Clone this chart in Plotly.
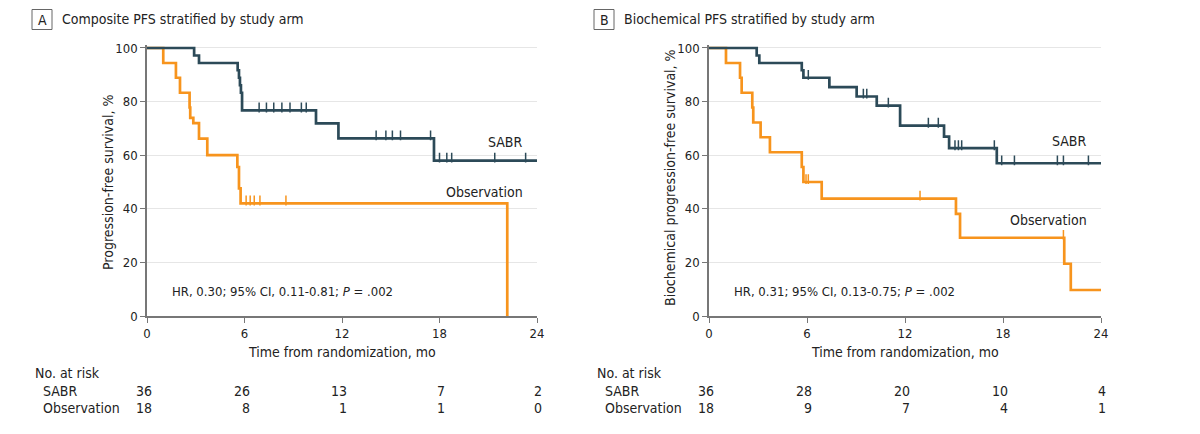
import plotly.graph_objects as go

# Kaplan-Meier step data (months, % progression-free)
a_sabr_t = [0, 2.9, 3.2, 5.58, 5.66, 5.72, 5.78, 5.85, 10.4, 11.78, 17.66, 24]
a_sabr_s = [100, 97.2, 94.4, 91.7, 88.9, 86.1, 83.3, 76.7, 71.9, 66.3, 58.0, 58.0]
a_sabr_cens = [6.9, 7.35, 7.8, 8.3, 8.8, 9.5, 9.8, 14.1, 14.7, 15.1, 15.6, 17.45,
               18.0, 18.45, 18.75, 21.4, 23.3]

a_obs_t = [0, 1.0, 1.78, 2.03, 2.62, 2.66, 2.85, 3.2, 3.71, 5.56, 5.66, 5.76, 22.17]
a_obs_s = [100, 94.4, 88.9, 83.3, 77.8, 73.9, 72.0, 66.2, 60.0, 55.6, 47.6, 42.0, 0]
a_obs_cens = [6.1, 6.35, 6.6, 6.95, 8.55]

b_sabr_t = [0, 2.92, 3.08, 5.68, 5.78, 7.37, 9.04, 10.27, 11.7, 14.39, 14.7, 17.62, 24]
b_sabr_s = [100, 97.2, 94.4, 91.7, 88.9, 85.4, 81.9, 78.5, 71.0, 66.9, 62.6, 57.0, 57.0]
b_sabr_cens = [6.08, 9.45, 9.66, 10.98, 13.43, 14.04, 15.06, 15.27, 15.47, 17.47,
               17.92, 18.7, 21.33, 21.7, 23.23]

b_obs_t = [0, 1.04, 1.9, 2.0, 2.65, 2.71, 3.16, 3.73, 5.68, 5.78, 6.9, 15.12, 15.37,
           21.75, 22.15, 24]
b_obs_s = [100, 94.4, 88.9, 83.3, 77.8, 72.2, 66.7, 61.1, 55.6, 50.0, 43.8, 38.1, 29.2,
           19.5, 9.7, 9.7]
b_obs_cens = [5.94, 6.08, 12.92, 21.7]

# number at risk
risk_times = [0, 6, 12, 18, 24]
a_risk_sabr = [36, 26, 13, 7, 2]
a_risk_obs = [18, 8, 1, 1, 0]
b_risk_sabr = [36, 28, 20, 10, 4]
b_risk_obs = [18, 9, 7, 4, 1]

SABR_COL = "#2c4a58"
OBS_COL = "#f7941d"
FONT = "DejaVu Sans Condensed, Liberation Sans Narrow, Arial Narrow, sans-serif"
W, H = 1200, 434
OFF = 8  # page body margin


def surv_at(ts, ss, t):
    val = ss[0]
    for ti, si in zip(ts, ss):
        if ti <= t:
            val = si
    return val


def px(x):
    return (x - OFF) / W


def py(y):
    return 1 - (y - OFF) / H


fig = go.Figure()

panels = [
    ("x", "y", a_sabr_t, a_sabr_s, a_sabr_cens, a_obs_t, a_obs_s, a_obs_cens),
    ("x2", "y2", b_sabr_t, b_sabr_s, b_sabr_cens, b_obs_t, b_obs_s, b_obs_cens),
]
for xa, ya, st, ss, sc, ot, os_, oc in panels:
    for t, s, c, col in [(ot, os_, oc, OBS_COL), (st, ss, sc, SABR_COL)]:
        fig.add_trace(go.Scatter(x=t, y=s, mode="lines", line=dict(color=col, width=2.7, shape="hv"),
                                 xaxis=xa, yaxis=ya, showlegend=False, hoverinfo="skip"))
        fig.add_trace(go.Scatter(x=c, y=[surv_at(t, s, v) + 1.1 for v in c], mode="markers",
                                 marker=dict(symbol="line-ns", size=7, line=dict(color=col, width=1.5)),
                                 xaxis=xa, yaxis=ya, showlegend=False, hoverinfo="skip"))

axis_common = dict(
    range=[0, 24], tickvals=risk_times, ticks="outside", ticklen=5, tickcolor="#777",
    showline=True, linecolor="#777", linewidth=1.5, showgrid=False, zeroline=False,
    tickfont=dict(family=FONT, size=13, color="#222"),
)
yaxis_common = dict(
    range=[0, 101], tickvals=[0, 20, 40, 60, 80, 100], ticks="outside", ticklen=5, tickcolor="#777",
    showline=True, linecolor="#777", linewidth=1.5, showgrid=True, gridcolor="#e6e6e6",
    gridwidth=1, zeroline=False, tickfont=dict(family=FONT, size=13, color="#222"),
)
ydom = [py(316), py(45.3)]
fig.update_layout(
    width=W, height=H, margin=dict(l=0, r=0, t=0, b=0, autoexpand=False),
    paper_bgcolor="white", plot_bgcolor="white", showlegend=False,
    font=dict(family=FONT, size=14, color="#222"),
    xaxis=dict(domain=[px(147), px(537)], anchor="y", **axis_common),
    yaxis=dict(domain=ydom, anchor="x", **yaxis_common),
    xaxis2=dict(domain=[px(709), px(1101)], anchor="y2", **axis_common),
    yaxis2=dict(domain=ydom, anchor="x2", **yaxis_common),
)

ann = []
shapes = []
# panel titles
for letter, title, bx in [("A", "Composite PFS stratified by study arm", 32),
                          ("B", "Biochemical PFS stratified by study arm", 594)]:
    shapes.append(dict(type="rect", xref="paper", yref="paper", x0=px(bx), x1=px(bx + 20),
                       y0=py(29.5), y1=py(9.5), line=dict(color="#666", width=1)))
    ann.append(dict(x=px(bx + 10), y=py(19.5), xref="paper", yref="paper", text=letter, showarrow=False,
                    font=dict(size=14, color="#222"), xanchor="center", yanchor="middle"))
    ann.append(dict(x=px(bx + 28), y=py(19), xref="paper", yref="paper", text=title, showarrow=False,
                    font=dict(size=14, color="#222"), xanchor="left", yanchor="middle"))

# y axis titles
ann.append(dict(x=px(108), y=py(182), xref="paper", yref="paper", text="Progression-free survival, %",
                textangle=-90, showarrow=False, font=dict(size=14), xanchor="center", yanchor="middle"))
ann.append(dict(x=px(670), y=py(178), xref="paper", yref="paper",
                text="Biochemical progression-free survival, %",
                textangle=-90, showarrow=False, font=dict(size=14), xanchor="center", yanchor="middle"))

for xa, hr, sabr_lab, obs_lab, rs, ro, lx in [
    ("x", "HR, 0.30; 95% CI, 0.11-0.81; <i>P</i> = .002", 65, 46.3, a_risk_sabr, a_risk_obs, 33),
    ("x2", "HR, 0.31; 95% CI, 0.13-0.75; <i>P</i> = .002", 65.3, 35.8, b_risk_sabr, b_risk_obs, 595),
]:
    ya = "y" if xa == "x" else "y2"
    ann.append(dict(x=1.4, y=9, xref=xa, yref=ya, text=hr, showarrow=False,
                    font=dict(size=13), xanchor="left", yanchor="middle"))
    ann.append(dict(x=23.25, y=sabr_lab, xref=xa, yref=ya, text="SABR", showarrow=False,
                    font=dict(size=14), xanchor="right", yanchor="middle"))
    ann.append(dict(x=23.25, y=obs_lab, xref=xa, yref=ya, text="Observation", showarrow=False,
                    font=dict(size=14), xanchor="right", yanchor="middle"))
    ann.append(dict(x=12, y=py(352), xref=xa, yref="paper", text="Time from randomization, mo",
                    showarrow=False, font=dict(size=14), xanchor="center", yanchor="middle"))
    ann.append(dict(x=px(lx), y=py(373), xref="paper", yref="paper", text="No. at risk",
                    showarrow=False, font=dict(size=14), xanchor="left", yanchor="middle"))
    ann.append(dict(x=px(lx + 8), y=py(391), xref="paper", yref="paper", text="SABR",
                    showarrow=False, font=dict(size=14), xanchor="left", yanchor="middle"))
    ann.append(dict(x=px(lx + 8), y=py(408), xref="paper", yref="paper", text="Observation",
                    showarrow=False, font=dict(size=14), xanchor="left", yanchor="middle"))
    for t, n1, n2 in zip(risk_times, rs, ro):
        ann.append(dict(x=t, y=py(391), xref=xa, yref="paper", text=str(n1), showarrow=False,
                        font=dict(size=14), xanchor="right", yanchor="middle", xshift=7))
        ann.append(dict(x=t, y=py(408), xref=xa, yref="paper", text=str(n2), showarrow=False,
                        font=dict(size=14), xanchor="right", yanchor="middle", xshift=7))

fig.update_layout(annotations=ann, shapes=shapes)
fig.write_html("out.html")
